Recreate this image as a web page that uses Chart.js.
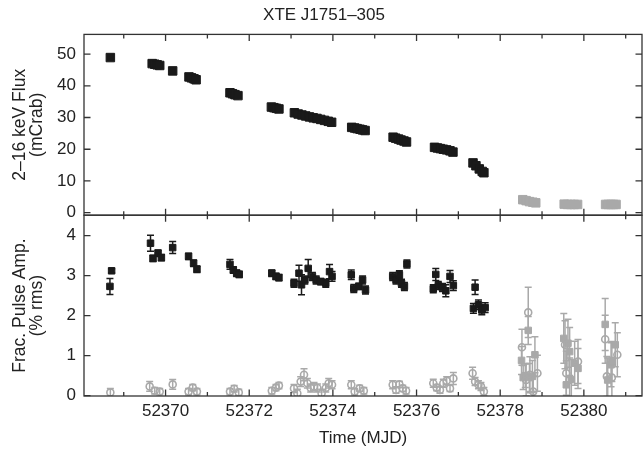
<!DOCTYPE html>
<html>
<head>
<meta charset="utf-8">
<script src="https://cdn.jsdelivr.net/npm/chart.js@4.4.0/dist/chart.umd.min.js"></script>
<style>
    body { margin: 0; overflow: hidden; background: #fff; }
    canvas { display: block; }
</style>
</head>
<body>
<canvas id="grafico" width="649" height="451"></canvas>
<script>
// Ticks
const xMaiores = [52370, 52372, 52374, 52376, 52378, 52380];
const xMenores = [52369, 52371, 52373, 52375, 52377, 52379, 52381];
const fluxTicks = [0, 10, 20, 30, 40, 50];
const ampTicks = [0, 1, 2, 3, 4];

// Fluxo 2-16 keV (mCrab), pontos pretos
const fluxPretoMjd = [52368.68, 52369.68, 52369.74, 52369.80, 52369.86, 52370.17,
    52370.56, 52370.62, 52370.68, 52370.73, 52371.54, 52371.60, 52371.66, 52371.73,
    52372.53, 52372.59, 52372.65, 52372.71, 52373.08, 52373.17, 52373.26, 52373.35,
    52373.44, 52373.53, 52373.62, 52373.71, 52373.80, 52373.89, 52373.97, 52374.45,
    52374.52, 52374.58, 52374.65, 52374.71, 52374.77, 52375.44, 52375.50, 52375.57,
    52375.63, 52375.70, 52375.76, 52376.43, 52376.50, 52376.57, 52376.64, 52376.72,
    52376.80, 52376.87, 52377.35, 52377.42, 52377.50, 52377.57, 52377.61];
const fluxPreto = [48.9, 47.0, 46.8, 46.6, 46.4, 44.7,
    42.8, 42.5, 42.2, 41.9, 37.8, 37.5, 37.2, 36.9,
    33.3, 33.1, 32.9, 32.7, 31.5, 31.1, 30.8, 30.5,
    30.2, 29.9, 29.7, 29.4, 29.1, 28.8, 28.5, 26.9,
    26.7, 26.5, 26.3, 26.1, 25.9, 23.8, 23.5, 23.2,
    22.9, 22.6, 22.3, 20.6, 20.4, 20.2, 20.0, 19.8,
    19.5, 19.1, 15.7, 14.8, 13.8, 13.0, 12.6];

// Fluxo, pontos cinza
const fluxCinzaMjd = [52378.54, 52378.62, 52378.70, 52378.78, 52378.85,
    52379.53, 52379.61, 52379.69, 52379.77, 52379.85,
    52380.52, 52380.58, 52380.65, 52380.71, 52380.77];
const fluxCinza = [4.1, 3.8, 3.5, 3.3, 3.1,
    2.7, 2.6, 2.6, 2.6, 2.6,
    2.6, 2.6, 2.6, 2.6, 2.6];

// Amplitude de pulso (% rms), quadrados pretos
const ampPretoMjd = [52368.67, 52368.71, 52369.64, 52369.70, 52369.82, 52369.90, 52370.17,
    52370.55, 52370.67, 52370.75, 52371.54, 52371.62, 52371.70, 52371.76,
    52372.54, 52372.64, 52372.71, 52373.07, 52373.19, 52373.25, 52373.33,
    52373.41, 52373.51, 52373.60, 52373.71, 52373.83, 52373.92, 52373.98,
    52374.44, 52374.50, 52374.62, 52374.71, 52374.78, 52375.43, 52375.51,
    52375.59, 52375.64, 52375.71, 52375.77, 52376.40, 52376.46, 52376.52,
    52376.62, 52376.70, 52376.80, 52376.88, 52377.36, 52377.40, 52377.48,
    52377.56, 52377.64];
const ampPreto = [2.73, 3.12, 3.81, 3.43, 3.56, 3.45, 3.70,
    3.48, 3.31, 3.16, 3.28, 3.14, 3.06, 3.03,
    3.06, 2.98, 2.95, 2.81, 3.06, 2.77, 2.89,
    3.18, 2.98, 2.89, 2.85, 2.81, 3.10, 2.98,
    3.02, 2.68, 2.73, 2.89, 2.64, 2.98, 2.89,
    3.02, 2.81, 2.73, 3.29, 2.67, 3.03, 2.75,
    2.70, 2.62, 2.98, 2.75, 2.18, 2.71, 2.27,
    2.14, 2.20];
const ampPretoErro = [0.2, 0.05, 0.2, 0.08, 0.08, 0.08, 0.15,
    0.08, 0.08, 0.08, 0.12, 0.08, 0.08, 0.08,
    0.08, 0.08, 0.08, 0.1, 0.2, 0.25, 0.1,
    0.22, 0.1, 0.1, 0.08, 0.1, 0.18, 0.12,
    0.12, 0.1, 0.08, 0.1, 0.1, 0.1, 0.1,
    0.1, 0.1, 0.1, 0.1, 0.1, 0.15, 0.1,
    0.1, 0.15, 0.15, 0.12, 0.12, 0.18, 0.12,
    0.12, 0.12];

// Amplitude, quadrados cinza
const ampCinzaMjd = [52378.51, 52378.55, 52378.60, 52378.67, 52378.70, 52378.77, 52378.83,
    52379.52, 52379.58, 52379.62, 52379.66, 52379.70, 52379.78, 52379.86,
    52380.51, 52380.57, 52380.65, 52380.67, 52380.75];
const ampCinza = [0.88, 0.45, 0.50, 1.63, 0.45, 0.48, 1.02,
    1.43, 0.27, 1.31, 1.10, 0.40, 0.81, 0.68,
    1.78, 0.39, 0.77, 0.85, 1.27];
const ampCinzaErro = [0.35, 0.3, 0.3, 0.35, 0.35, 0.4, 0.45,
    0.62, 0.6, 0.6, 0.6, 0.5, 0.55, 0.5,
    0.65, 0.55, 0.55, 0.5, 0.55];

// Amplitude, circulos abertos cinza
const circMjd = [52368.68, 52369.62, 52369.74, 52369.86, 52370.17, 52370.55, 52370.65, 52370.75,
    52371.54, 52371.64, 52371.75, 52372.54, 52372.64, 52372.71, 52373.07, 52373.15,
    52373.23, 52373.31, 52373.39, 52373.47, 52373.55, 52373.63, 52373.73, 52373.83,
    52373.90, 52373.98, 52374.44, 52374.52, 52374.64, 52374.74, 52375.43, 52375.51,
    52375.59, 52375.67, 52375.75, 52376.40, 52376.48, 52376.56, 52376.64, 52376.72,
    52376.80, 52376.88, 52377.34, 52377.40, 52377.48, 52377.54, 52377.61, 52378.52,
    52378.62, 52378.67, 52378.71, 52378.79, 52378.89, 52379.55, 52379.58, 52379.66,
    52379.86, 52380.51, 52380.55, 52380.67, 52380.80];
const circ = [0.08, 0.23, 0.12, 0.10, 0.28, 0.10, 0.20, 0.10,
    0.10, 0.17, 0.08, 0.12, 0.20, 0.25, 0.18, 0.06,
    0.35, 0.52, 0.31, 0.19, 0.23, 0.19, 0.06, 0.19,
    0.31, 0.27, 0.27, 0.10, 0.18, 0.12, 0.27, 0.14,
    0.28, 0.18, 0.12, 0.31, 0.20, 0.14, 0.31, 0.37,
    0.18, 0.43, 0.56, 0.35, 0.27, 0.23, 0.10, 1.21,
    0.39, 2.08, 0.52, 0.10, 0.56, 1.27, 0.56, 0.39,
    0.85, 1.41, 0.48, 0.45, 1.02];
const circErro = [0.1, 0.12, 0.08, 0.08, 0.12, 0.08, 0.08, 0.08,
    0.08, 0.08, 0.08, 0.08, 0.08, 0.08, 0.1, 0.1,
    0.12, 0.15, 0.12, 0.1, 0.1, 0.1, 0.1, 0.1,
    0.12, 0.1, 0.1, 0.08, 0.08, 0.08, 0.1, 0.08,
    0.08, 0.08, 0.08, 0.1, 0.08, 0.08, 0.1, 0.1,
    0.08, 0.15, 0.15, 0.1, 0.1, 0.1, 0.1, 0.45,
    0.4, 0.63, 0.45, 0.4, 0.45, 0.6, 0.55, 0.55,
    0.55, 0.6, 0.5, 0.5, 0.55];

const PRETO = '#1a1a1a';
const CINZA = '#a9a9a9';
const MOLDURA = '#333333';
const FONTE = "'Liberation Sans', Arial, Helvetica, sans-serif";

function pontos(xs, ys) {
    return xs.map((x, i) => ({ x: x, y: ys[i] }));
}

// Desenha barras de erro antes dos marcadores
const barrasErro = {
    id: 'barrasErro',
    beforeDatasetsDraw(chart) {
        const ctx = chart.ctx;
        chart.data.datasets.forEach((ds, i) => {
            if (!ds.erros) return;
            const meta = chart.getDatasetMeta(i);
            const sx = chart.scales[meta.xAxisID];
            const sy = chart.scales[meta.yAxisID];
            ctx.save();
            ctx.beginPath();
            ctx.rect(sx.left, sy.top, sx.right - sx.left, sy.bottom - sy.top);
            ctx.clip();
            ctx.strokeStyle = ds.borderColor;
            ctx.lineWidth = 1.5;
            ds.data.forEach((p, j) => {
                const e = ds.erros[j];
                const px = sx.getPixelForValue(p.x);
                const y1 = sy.getPixelForValue(p.y + e);
                const y2 = sy.getPixelForValue(p.y - e);
                ctx.beginPath();
                ctx.moveTo(px, y1); ctx.lineTo(px, y2);
                ctx.moveTo(px - 3.5, y1); ctx.lineTo(px + 3.5, y1);
                ctx.moveTo(px - 3.5, y2); ctx.lineTo(px + 3.5, y2);
                ctx.stroke();
            });
            ctx.restore();
        });
    }
};

// Moldura e ticks para dentro
const moldura = {
    id: 'moldura',
    afterDraw(chart) {
        const ctx = chart.ctx;
        const sx = chart.scales.x;
        const paineis = [chart.scales.yFlux, chart.scales.yAmp];
        const ticksY = [fluxTicks, ampTicks];
        ctx.save();
        ctx.strokeStyle = MOLDURA;
        ctx.lineWidth = 1.3;
        paineis.forEach((sy, k) => {
            ctx.strokeRect(sx.left, sy.top, sx.right - sx.left, sy.bottom - sy.top);
            ctx.beginPath();
            xMaiores.forEach(v => {
                const px = sx.getPixelForValue(v);
                ctx.moveTo(px, sy.top); ctx.lineTo(px, sy.top + 6.5);
                ctx.moveTo(px, sy.bottom); ctx.lineTo(px, sy.bottom - 6.5);
            });
            xMenores.forEach(v => {
                const px = sx.getPixelForValue(v);
                ctx.moveTo(px, sy.top); ctx.lineTo(px, sy.top + 4);
                ctx.moveTo(px, sy.bottom); ctx.lineTo(px, sy.bottom - 4);
            });
            ticksY[k].forEach(v => {
                const py = sy.getPixelForValue(v);
                ctx.moveTo(sx.left, py); ctx.lineTo(sx.left + 6.5, py);
                ctx.moveTo(sx.right, py); ctx.lineTo(sx.right - 6.5, py);
            });
            ctx.stroke();
        });
        ctx.restore();
    }
};

Chart.defaults.font.family = FONTE;
Chart.defaults.color = '#222';

const semGrade = { display: false, drawTicks: false };
const rotulo = v => String(v);

// Tamanho fixo dos eixos, sem folga extra para rotulos
function ajustaX(s) {
    s.height = 55;
    s.paddingLeft = 0;
    s.paddingRight = 0;
}
function ajustaY(s) {
    s.width = 84;
    s.paddingTop = 0;
    s.paddingBottom = 0;
}

const ctx = document.getElementById('grafico').getContext('2d');
const grafico = new Chart(ctx, {
    type: 'scatter',
    data: {
        datasets: [
            {
                label: 'Fluxo',
                data: pontos(fluxPretoMjd, fluxPreto),
                yAxisID: 'yFlux',
                pointStyle: 'rect',
                pointRadius: 6,
                backgroundColor: PRETO,
                borderColor: PRETO,
                borderWidth: 1
            },
            {
                label: 'Fluxo cinza',
                data: pontos(fluxCinzaMjd, fluxCinza),
                yAxisID: 'yFlux',
                pointStyle: 'rect',
                pointRadius: 6,
                backgroundColor: CINZA,
                borderColor: CINZA,
                borderWidth: 1
            },
            {
                label: 'Circulos',
                data: pontos(circMjd, circ),
                erros: circErro,
                yAxisID: 'yAmp',
                pointStyle: 'circle',
                pointRadius: 3.5,
                backgroundColor: 'rgba(255,255,255,0)',
                borderColor: CINZA,
                borderWidth: 1.6
            },
            {
                label: 'Amp cinza',
                data: pontos(ampCinzaMjd, ampCinza),
                erros: ampCinzaErro,
                yAxisID: 'yAmp',
                pointStyle: 'rect',
                pointRadius: 4.6,
                backgroundColor: CINZA,
                borderColor: CINZA,
                borderWidth: 1
            },
            {
                label: 'Amp',
                data: pontos(ampPretoMjd, ampPreto),
                erros: ampPretoErro,
                yAxisID: 'yAmp',
                pointStyle: 'rect',
                pointRadius: 4.6,
                backgroundColor: PRETO,
                borderColor: PRETO,
                borderWidth: 1
            }
        ]
    },
    options: {
        responsive: false,
        maintainAspectRatio: false,
        animation: false,
        layout: { padding: { left: 0, right: 1, top: 0, bottom: 0 } },
        plugins: {
            legend: { display: false },
            tooltip: { enabled: false },
            title: {
                display: true,
                text: 'XTE J1751–305',
                font: { size: 17, weight: 'normal' },
                color: '#222',
                padding: { top: 5, bottom: 9 }
            }
        },
        scales: {
            x: {
                type: 'linear',
                position: 'bottom',
                min: 52368.05,
                max: 52381.39,
                grid: semGrade,
                border: { display: false },
                afterBuildTicks: s => { s.ticks = xMaiores.map(v => ({ value: v })); },
                afterFit: ajustaX,
                ticks: { font: { size: 17 }, padding: 5, maxRotation: 0, autoSkip: false, callback: rotulo },
                title: {
                    display: true,
                    text: 'Time (MJD)',
                    font: { size: 17 },
                    padding: { top: 0, bottom: 2 }
                }
            },
            yAmp: {
                type: 'linear',
                position: 'left',
                stack: 'painel',
                stackWeight: 1,
                min: -0.01,
                max: 4.51,
                grid: semGrade,
                border: { display: false },
                afterBuildTicks: s => { s.ticks = ampTicks.map(v => ({ value: v })); },
                afterFit: ajustaY,
                ticks: { font: { size: 17 }, padding: 8, autoSkip: false, callback: rotulo },
                title: {
                    display: true,
                    text: ['Frac. Pulse Amp.', '(% rms)'],
                    font: { size: 17.5, lineHeight: 1.0 },
                    padding: { top: 11, bottom: 0 }
                }
            },
            yFlux: {
                type: 'linear',
                position: 'left',
                stack: 'painel',
                stackWeight: 1,
                min: -0.79,
                max: 56.2,
                grid: semGrade,
                border: { display: false },
                afterBuildTicks: s => { s.ticks = fluxTicks.map(v => ({ value: v })); },
                afterFit: ajustaY,
                ticks: { font: { size: 17 }, padding: 8, autoSkip: false, callback: rotulo },
                title: {
                    display: true,
                    text: ['2–16 keV Flux', '(mCrab)'],
                    font: { size: 17.5, lineHeight: 1.0 },
                    padding: { top: 11, bottom: 0 }
                }
            }
        }
    },
    plugins: [barrasErro, moldura]
});
</script>
</body>
</html>
